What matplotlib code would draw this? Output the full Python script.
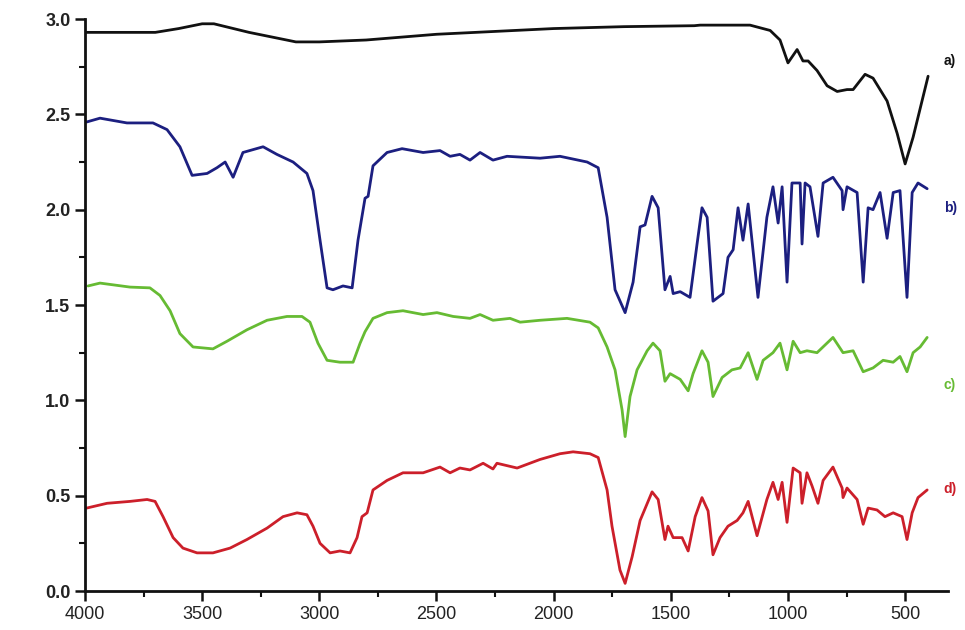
import matplotlib
matplotlib.use("Agg")
import matplotlib.pyplot as plt
from matplotlib.ticker import MultipleLocator

# ---- data (wavenumber cm-1, intensity) ----
a_wn = [4000, 3700, 3600, 3500, 3450, 3300, 3100, 3000, 2800, 2500, 2000, 1700, 1400,
        1375, 1162, 1076, 1034, 1000, 961, 936, 914, 876, 833, 790, 748, 722, 671, 637,
        577, 534, 500, 466, 402]
a_val = [2.93, 2.93, 2.95, 2.975, 2.975, 2.93, 2.88, 2.88, 2.89, 2.92, 2.95, 2.96, 2.965,
         2.968, 2.968, 2.94, 2.89, 2.77, 2.84, 2.78, 2.78, 2.73, 2.65, 2.62, 2.63, 2.63,
         2.71, 2.69, 2.57, 2.40, 2.24, 2.38, 2.70]

b_wn = [3993, 3936, 3821, 3710, 3650, 3595, 3543, 3479, 3437, 3402, 3368, 3326, 3240,
        3181, 3112, 3053, 3027, 2997, 2967, 2942, 2899, 2860, 2835, 2805, 2792, 2771,
        2711, 2647, 2557, 2485, 2442, 2400, 2357, 2314, 2259, 2199, 2058, 1973, 1857,
        1810, 1772, 1738, 1695, 1661, 1631, 1610, 1580, 1554, 1525, 1503, 1490, 1460,
        1418, 1388, 1367, 1345, 1320, 1277, 1256, 1234, 1213, 1192, 1170, 1128, 1090,
        1064, 1042, 1025, 1004, 983, 948, 940, 927, 906, 872, 850, 808, 769, 765, 748,
        705, 679, 658, 637, 607, 577, 551, 522, 492, 470, 445, 406]
b_val = [2.46, 2.48, 2.455, 2.455, 2.42, 2.33, 2.18, 2.19, 2.22, 2.25, 2.17, 2.30, 2.33,
         2.29, 2.25, 2.19, 2.10, 1.84, 1.59, 1.58, 1.60, 1.59, 1.84, 2.06, 2.07, 2.23,
         2.30, 2.32, 2.30, 2.31, 2.28, 2.29, 2.26, 2.30, 2.26, 2.28, 2.27, 2.28, 2.25,
         2.22, 1.96, 1.58, 1.46, 1.62, 1.91, 1.92, 2.07, 2.01, 1.58, 1.65, 1.56, 1.57,
         1.54, 1.82, 2.01, 1.96, 1.52, 1.56, 1.75, 1.79, 2.01, 1.84, 2.03, 1.54, 1.96,
         2.12, 1.93, 2.12, 1.62, 2.14, 2.14, 1.82, 2.14, 2.12, 1.86, 2.14, 2.17, 2.10,
         2.00, 2.12, 2.09, 1.62, 2.01, 2.00, 2.09, 1.85, 2.09, 2.10, 1.54, 2.09, 2.14, 2.11]

c_wn = [3987, 3936, 3808, 3723, 3680, 3637, 3595, 3539, 3454, 3394, 3309, 3223, 3138,
        3074, 3040, 3006, 2967, 2912, 2856, 2826, 2805, 2771, 2711, 2643, 2557, 2498,
        2429, 2357, 2314, 2259, 2186, 2143, 2058, 1943, 1845, 1810, 1772, 1738, 1708,
        1695, 1674, 1644, 1601, 1576, 1546, 1525, 1503, 1460, 1426, 1405, 1367, 1341,
        1320, 1281, 1239, 1204, 1170, 1132, 1106, 1064, 1034, 1004, 978, 948, 919, 876,
        808, 765, 722, 679, 637, 594, 551, 522, 492, 466, 436, 406]
c_val = [1.60, 1.615, 1.594, 1.59, 1.55, 1.47, 1.35, 1.28, 1.27, 1.31, 1.37, 1.42, 1.44,
         1.44, 1.41, 1.30, 1.21, 1.20, 1.20, 1.30, 1.36, 1.43, 1.46, 1.47, 1.45, 1.46,
         1.44, 1.43, 1.45, 1.42, 1.43, 1.41, 1.42, 1.43, 1.41, 1.38, 1.28, 1.16, 0.95,
         0.81, 1.02, 1.16, 1.26, 1.30, 1.26, 1.10, 1.14, 1.11, 1.05, 1.14, 1.26, 1.20,
         1.02, 1.12, 1.16, 1.17, 1.25, 1.11, 1.21, 1.25, 1.30, 1.16, 1.31, 1.25, 1.26, 1.25,
         1.33, 1.25, 1.26, 1.15, 1.17, 1.21, 1.20, 1.23, 1.15, 1.25, 1.28, 1.33]

d_wn = [3993, 3906, 3808, 3735, 3701, 3667, 3624, 3582, 3522, 3454, 3381, 3309, 3223,
        3155, 3095, 3053, 3027, 2997, 2954, 2912, 2869, 2839, 2818, 2796, 2771, 2711,
        2643, 2557, 2485, 2442, 2400, 2357, 2301, 2259, 2242, 2156, 2058, 1973, 1917,
        1845, 1810, 1772, 1751, 1717, 1695, 1665, 1631, 1580, 1554, 1525, 1512, 1490,
        1452, 1426, 1396, 1367, 1341, 1320, 1290, 1256, 1217, 1192, 1170, 1132, 1090,
        1064, 1042, 1025, 1004, 978, 948, 940, 919, 897, 872, 850, 808, 769, 765, 748,
        705, 679, 658, 620, 586, 551, 513, 492, 470, 445, 406]
d_val = [0.435, 0.46, 0.47, 0.48, 0.47, 0.39, 0.28, 0.225, 0.20, 0.20, 0.225, 0.27, 0.33,
         0.39, 0.41, 0.40, 0.34, 0.25, 0.20, 0.21, 0.20, 0.28, 0.39, 0.41, 0.53, 0.58,
         0.62, 0.62, 0.65, 0.62, 0.645, 0.635, 0.67, 0.64, 0.67, 0.645, 0.69, 0.72, 0.73,
         0.72, 0.70, 0.53, 0.34, 0.11, 0.04, 0.18, 0.37, 0.52, 0.48, 0.27, 0.34, 0.28,
         0.28, 0.21, 0.39, 0.49, 0.42, 0.19, 0.28, 0.34, 0.37, 0.41, 0.47, 0.29, 0.48,
         0.57, 0.48, 0.57, 0.36, 0.645, 0.62, 0.46, 0.62, 0.55, 0.46, 0.58, 0.65, 0.54,
         0.49, 0.54, 0.48, 0.35, 0.435, 0.425, 0.39, 0.41, 0.39, 0.27, 0.41, 0.49, 0.53]

series = [
    (a_wn, a_val, "#111111", "a)", 2.78),
    (b_wn, b_val, "#1c1f80", "b)", 2.01),
    (c_wn, c_val, "#66bb33", "c)", 1.08),
    (d_wn, d_val, "#cc1f2a", "d)", 0.535),
]

x_ticks = [4000, 3500, 3000, 2500, 2000, 1500, 1000, 500]
y_ticks = [0.0, 0.5, 1.0, 1.5, 2.0, 2.5, 3.0]

plt.rcParams['font.family'] = ['Liberation Sans', 'DejaVu Sans']

fig = plt.figure(figsize=(9.65, 6.3), dpi=100)
ax = fig.add_axes([0.0881, 0.0619, 0.8943, 0.9079])

for wn, val, col, lab, ly in series:
    ax.plot(wn, val, color=col, lw=2.0, solid_joinstyle='round', solid_capstyle='round')
    ax.text(335, ly, lab, color=col, fontsize=10, fontweight='bold',
            ha='left', va='center', clip_on=False)

ax.set_xlim(4000, 317)
ax.set_ylim(0, 3.0)
ax.set_xticks(x_ticks)
ax.set_xticklabels([str(t) for t in x_ticks])
ax.set_yticks(y_ticks)
ax.set_yticklabels([f"{t:.1f}" for t in y_ticks])
ax.xaxis.set_minor_locator(MultipleLocator(250))
ax.yaxis.set_minor_locator(MultipleLocator(0.25))

for s in ['top', 'right']:
    ax.spines[s].set_visible(False)
for s in ['left', 'bottom']:
    ax.spines[s].set_linewidth(2.0)
    ax.spines[s].set_color('#111111')

ax.tick_params(which='major', direction='out', length=7, width=1.8, colors='#111111',
               labelsize=13, labelcolor='#222222')
ax.tick_params(which='minor', direction='out', length=4, width=1.5, colors='#111111')
for lbl in ax.get_yticklabels():
    lbl.set_fontweight('bold')

fig.savefig("out.png", dpi=100)
